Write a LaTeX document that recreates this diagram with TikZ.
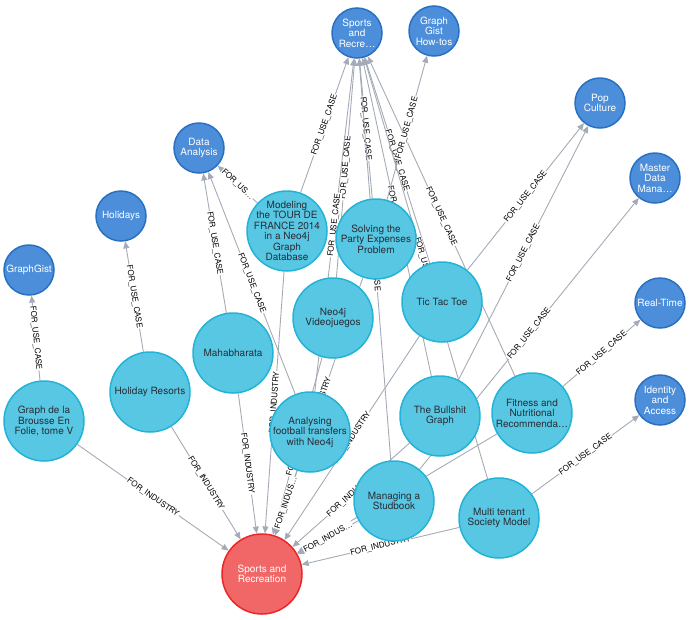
\documentclass[tikz,border=0pt]{standalone}
\usepackage{fontspec}
\setmainfont{TeX Gyre Heros}
\usepackage{tikz}
\usetikzlibrary{arrows.meta}
\definecolor{ink}{HTML}{2A2C34}
\definecolor{ucfill}{HTML}{4C8EDA}
\definecolor{ucdraw}{HTML}{2870C2}
\definecolor{gistfill}{HTML}{57C7E3}
\definecolor{gistdraw}{HTML}{23B3D7}
\definecolor{indfill}{HTML}{F16667}
\definecolor{inddraw}{HTML}{EB2728}
\definecolor{relgrey}{HTML}{A5ABB6}
\pgfdeclarelayer{edges}
\pgfsetlayers{edges,main}

\begin{document}
\begin{tikzpicture}[x=1pt,y=-1pt,>={Triangle[length=7pt,width=6pt]},
  every node/.style={font=\fontsize{10}{10.5}\selectfont},
  usecase/.style={circle,draw=ucdraw,fill=ucfill,line width=1.5pt,minimum size=50pt,inner sep=0pt},
  gist/.style={circle,draw=gistdraw,fill=gistfill,line width=1.5pt,minimum size=80pt,inner sep=0pt},
  industry/.style={circle,draw=inddraw,fill=indfill,line width=1.5pt,minimum size=80pt,inner sep=0pt},
  light/.style={text=white,align=center,inner sep=0pt},
  dark/.style={text=ink,align=center,inner sep=0pt},
  rel/.style={->,draw=relgrey,line width=0.9pt},
  lbl/.style={sloped,midway,fill=white,inner sep=0.7pt,text=black,font=\fontsize{8}{8}\selectfont}]
  \useasboundingbox (0,0) rectangle (690,619);

  \node[usecase,label={[light]center:{Sports\\and\\Recre…}}] (sportsUC) at (357,33) {};
  \node[usecase,label={[light]center:{Graph\\Gist\\How-tos}}] (gistHowtos) at (434,31) {};
  \node[usecase,label={[light]center:{Data\\Analysis}}] (dataAnalysis) at (199,148) {};
  \node[usecase,label={[light]center:{Pop\\Culture}}] (popCulture) at (600,103) {};
  \node[usecase,label={[light]center:{Master\\Data\\Mana…}}] (masterData) at (655,178) {};
  \node[usecase,label={[light]center:Real-Time}] (realTime) at (660,303) {};
  \node[usecase,label={[light]center:{Identity\\and\\Access}}] (identity) at (660,400) {};
  \node[usecase,label={[light]center:Holidays}] (holidays) at (121,216) {};
  \node[usecase,label={[light]center:GraphGist}] (graphGist) at (29,270) {};

  \node[gist,label={[dark]center:{Modeling\\the TOUR DE\\FRANCE 2014\\in a Neo4j\\Graph\\Database}}] (tour) at (287,231) {};
  \node[gist,label={[dark]center:{Solving the\\Party Expenses\\Problem}}] (party) at (376,239) {};
  \node[gist,label={[dark]center:{Neo4j\\Videojuegos}}] (videojuegos) at (333,318) {};
  \node[gist,label={[dark]center:Tic Tac Toe}] (tictactoe) at (442,302) {};
  \node[gist,label={[dark]center:Mahabharata}] (mahabharata) at (233,353) {};
  \node[gist,label={[dark]center:Holiday Resorts}] (resorts) at (150,392) {};
  \node[gist,label={[dark]center:{Graph de la\\Brousse En\\Folie, tome V}}] (brousse) at (44,421) {};
  \node[gist,label={[dark]center:{Analysing\\football transfers\\with Neo4j}}] (football) at (310,432) {};
  \node[gist,label={[dark]center:{The Bullshit\\Graph}}] (bullshit) at (440,416) {};
  \node[gist,label={[dark]center:{Fitness and\\Nutritional\\Recommenda…}}] (fitness) at (532,413) {};
  \node[gist,label={[dark]center:{Managing a\\Studbook}}] (studbook) at (394,501) {};
  \node[gist,label={[dark]center:{Multi tenant\\Society Model}}] (multitenant) at (499,518) {};

  \node[industry,label={[light]center:{Sports and\\Recreation}}] (sports) at (262,574) {};

  \begin{pgfonlayer}{edges}
    \foreach \a/\b in {brousse/graphGist,resorts/holidays,mahabharata/dataAnalysis,football/dataAnalysis,
        tour/sportsUC,party/sportsUC,videojuegos/sportsUC,football/sportsUC,tictactoe/sportsUC,
        bullshit/sportsUC,fitness/sportsUC,studbook/sportsUC,multitenant/sportsUC,party/gistHowtos,
        tictactoe/popCulture,bullshit/popCulture,studbook/masterData,fitness/realTime,multitenant/identity}
      \draw[rel] (\a) -- node[lbl] {FOR\_USE\_CASE} (\b);
    \draw[rel] (tour) -- node[lbl] {FOR\_US…} (dataAnalysis);
    \foreach \a in {brousse,resorts,mahabharata,tour,videojuegos,party,tictactoe,bullshit,fitness,multitenant}
      \draw[rel] (\a) -- node[lbl] {FOR\_INDUSTRY} (sports);
    \foreach \a in {football,studbook}
      \draw[rel] (\a) -- node[lbl] {FOR\_INDUS…} (sports);
  \end{pgfonlayer}
\end{tikzpicture}
\end{document}
